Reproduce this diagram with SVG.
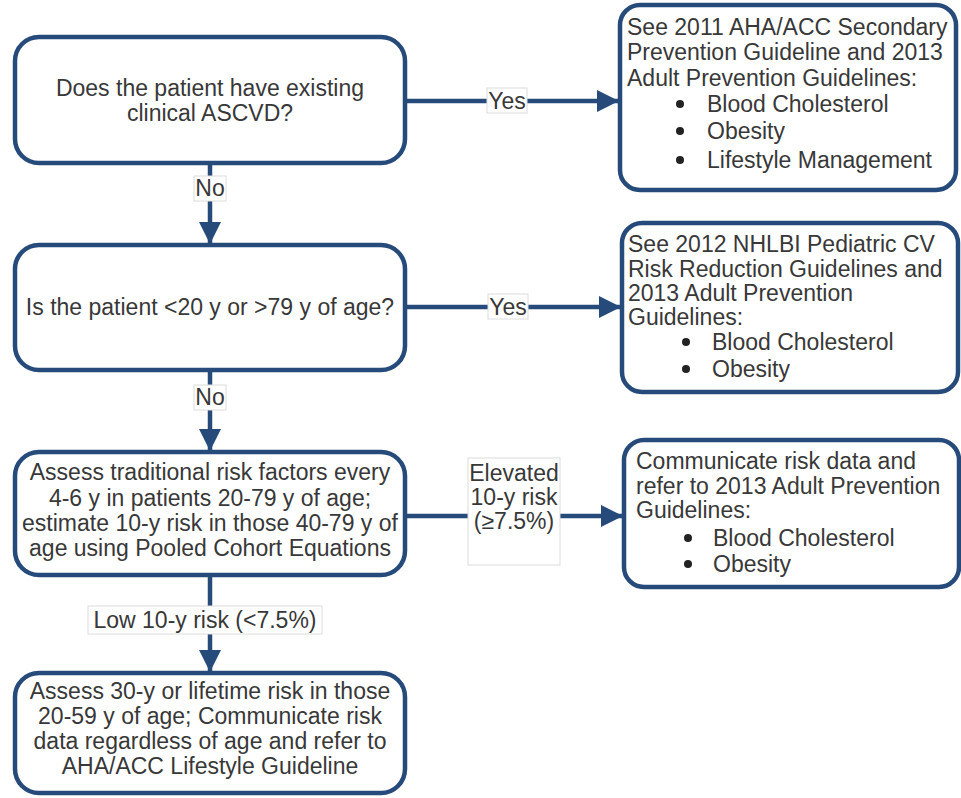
<svg xmlns="http://www.w3.org/2000/svg" width="961" height="798" viewBox="0 0 961 798">
<style>
.box{fill:#ffffff;stroke:#264b7b;stroke-width:4.5}
.t{font-family:"Liberation Sans",Arial,sans-serif;font-size:23px;fill:#383838}
.c{text-anchor:middle}
.ln{stroke:#264b7b;stroke-width:4.5;fill:none}
.lbl{fill:#ffffff;stroke:#dcdcdc;stroke-width:1}
.dot{fill:#222222}
</style>
<defs>
<marker id="ah" markerUnits="userSpaceOnUse" markerWidth="24" markerHeight="22" refX="22" refY="11" orient="auto">
<path d="M0,0 L22,11 L0,22 Z" fill="#264b7b"/>
</marker>
</defs>
<rect width="961" height="798" fill="#ffffff"/>
<g id="connectors">
<path class="ln" d="M405,101 H619" marker-end="url(#ah)"/>
<path class="ln" d="M405,307 H621" marker-end="url(#ah)"/>
<path class="ln" d="M405,516 H623" marker-end="url(#ah)"/>
<path class="ln" d="M210,163 V244" marker-end="url(#ah)"/>
<path class="ln" d="M210,370 V451" marker-end="url(#ah)"/>
<path class="ln" d="M210,575 V672" marker-end="url(#ah)"/>
<rect class="lbl" x="487" y="88" width="40" height="25"/>
<text class="t c" x="507" y="109">Yes</text>
<rect class="lbl" x="488" y="294" width="40" height="25"/>
<text class="t c" x="508" y="315">Yes</text>
<rect class="lbl" x="468" y="458" width="92" height="107"/>
<text class="t c" x="514" y="481">Elevated</text>
<text class="t c" x="514" y="505">10-y risk</text>
<text class="t c" x="514" y="529">(≥7.5%)</text>
<rect class="lbl" x="194" y="176" width="32" height="25"/>
<text class="t c" x="210" y="196">No</text>
<rect class="lbl" x="194" y="385" width="32" height="25"/>
<text class="t c" x="210" y="405">No</text>
<rect class="lbl" x="88" y="606" width="234" height="28"/>
<text class="t c" x="205" y="628">Low 10-y risk (&lt;7.5%)</text>
</g>
<g id="n1">
<rect class="box" x="15" y="37" width="390" height="126" rx="24"/>
<text class="t c" x="210" y="96">Does the patient have existing</text>
<text class="t c" x="210" y="121">clinical ASCVD?</text>
</g>
<g id="n2">
<rect class="box" x="15" y="245" width="390" height="125" rx="24"/>
<text class="t c" x="210" y="315">Is the patient &lt;20 y or &gt;79 y of age?</text>
</g>
<g id="n3">
<rect class="box" x="15" y="452" width="390" height="123" rx="24"/>
<text class="t c" x="210" y="480">Assess traditional risk factors every</text>
<text class="t c" x="210" y="506">4-6 y in patients 20-79 y of age;</text>
<text class="t c" x="210" y="531">estimate 10-y risk in those 40-79 y of</text>
<text class="t c" x="210" y="556">age using Pooled Cohort Equations</text>
</g>
<g id="n4">
<rect class="box" x="15" y="673" width="390" height="120" rx="24"/>
<text class="t c" x="210" y="699">Assess 30-y or lifetime risk in those</text>
<text class="t c" x="210" y="724">20-59 y of age; Communicate risk</text>
<text class="t c" x="210" y="749">data regardless of age and refer to</text>
<text class="t c" x="210" y="774">AHA/ACC Lifestyle Guideline</text>
</g>
<g id="nA">
<rect class="box" x="620" y="5" width="336" height="185" rx="20"/>
<text class="t" x="627" y="35">See 2011 AHA/ACC Secondary</text>
<text class="t" x="627" y="60">Prevention Guideline and 2013</text>
<text class="t" x="627" y="86">Adult Prevention Guidelines:</text>
<circle class="dot" cx="680" cy="104" r="4"/>
<text class="t" x="707" y="112">Blood Cholesterol</text>
<circle class="dot" cx="680" cy="131" r="4"/>
<text class="t" x="707" y="139">Obesity</text>
<circle class="dot" cx="680" cy="160" r="4"/>
<text class="t" x="707" y="168">Lifestyle Management</text>
</g>
<g id="nB">
<rect class="box" x="622" y="223" width="336" height="169" rx="20"/>
<text class="t" x="628" y="252">See 2012 NHLBI Pediatric CV</text>
<text class="t" x="628" y="277">Risk Reduction Guidelines and</text>
<text class="t" x="628" y="301">2013 Adult Prevention</text>
<text class="t" x="628" y="325">Guidelines:</text>
<circle class="dot" cx="686" cy="342" r="4"/>
<text class="t" x="712" y="350">Blood Cholesterol</text>
<circle class="dot" cx="686" cy="369" r="4"/>
<text class="t" x="712" y="377">Obesity</text>
</g>
<g id="nC">
<rect class="box" x="624" y="440" width="335" height="147" rx="20"/>
<text class="t" x="636" y="469">Communicate risk data and</text>
<text class="t" x="636" y="494">refer to 2013 Adult Prevention</text>
<text class="t" x="636" y="518">Guidelines:</text>
<circle class="dot" cx="688" cy="538" r="4"/>
<text class="t" x="713" y="546">Blood Cholesterol</text>
<circle class="dot" cx="688" cy="564" r="4"/>
<text class="t" x="713" y="572">Obesity</text>
</g>
</svg>
